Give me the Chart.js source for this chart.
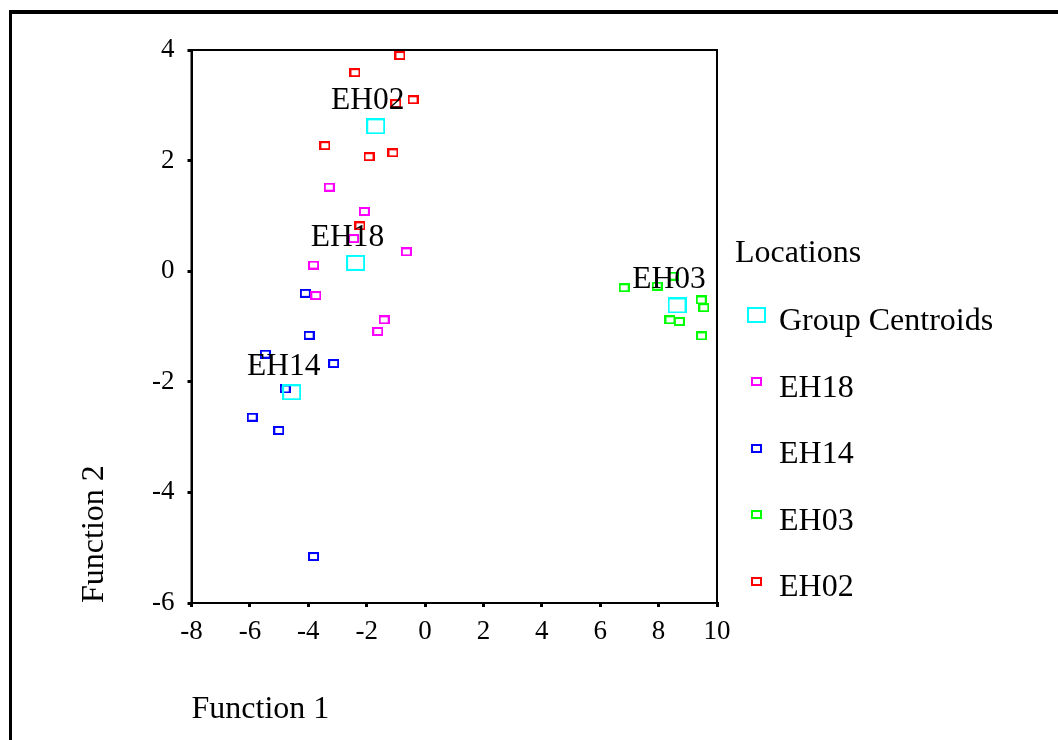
<!DOCTYPE html>
<html>
<head>
<meta charset="utf-8">
<script src="https://cdn.jsdelivr.net/npm/chart.js@4.4.1/dist/chart.umd.min.js"></script>
<style>
  html, body { margin: 0; padding: 0; background: #fff; }
  canvas { display: block; }
</style>
</head>
<body>
<canvas id="myChart" width="1058" height="740"></canvas>
<script>
// groups, in legend order
const groups = ['Group Centroids', 'EH18', 'EH14', 'EH03', 'EH02']
const groupColors = ['#00ffff', '#ff00ff', '#0000ff', '#00ff00', '#ff0000']

// centroids (Function 1, Function 2) for each location
const centroidNames = ['EH18', 'EH14', 'EH03', 'EH02']
const centroidX = [-2.38, -4.57, 8.63, -1.69]
const centroidY = [0.15, -2.19, -0.62, 2.62]

const eh18X = [-3.28, -2.08, -2.45, -0.64, -3.82, -3.74, -1.40, -1.62]
const eh18Y = [1.52, 1.08, 0.59, 0.35, 0.11, -0.44, -0.88, -1.09]

const eh14X = [-4.10, -3.97, -5.47, -3.13, -4.79, -5.92, -5.01, -3.82]
const eh14Y = [-0.40, -1.16, -1.50, -1.67, -2.13, -2.64, -2.88, -5.16]

const eh03X = [6.82, 7.95, 8.50, 9.46, 9.55, 8.39, 8.71, 9.47]
const eh03Y = [-0.30, -0.27, -0.09, -0.52, -0.66, -0.88, -0.91, -1.17]

const eh02X = [-0.86, -2.40, -0.41, -1.00, -3.43, -1.92, -1.10, -2.23]
const eh02Y = [3.90, 3.59, 3.10, 3.03, 2.27, 2.07, 2.14, 0.82]

const xTicks = [-8, -6, -4, -2, 0, 2, 4, 6, 8, 10]
const yTicks = [-6, -4, -2, 0, 2, 4]

const serif = '"Liberation Serif", "Times New Roman", serif'

// hollow rectangle markers
const makeMarker = (w, h, color) => {
    const c = document.createElement('canvas')
    c.width = w
    c.height = h
    const g = c.getContext('2d')
    g.strokeStyle = color
    g.lineWidth = 2
    g.strokeRect(1, 1, w - 2, h - 2)
    return c
}

const toPoints = (xs, ys) => xs.map((x, i) => ({ x: x, y: ys[i] }))

const seriesX = [centroidX, eh18X, eh14X, eh03X, eh02X]
const seriesY = [centroidY, eh18Y, eh14Y, eh03Y, eh02Y]

const datasets = groups.map((name, i) => ({
    label: name,
    data: toPoints(seriesX[i], seriesY[i]),
    pointStyle: i === 0 ? makeMarker(19, 16, groupColors[i]) : makeMarker(11, 9, groupColors[i]),
    showLine: false
}))

// frame, plot box, centroid labels and legend
const decorations = {
    id: 'decorations',
    beforeDraw(chart) {
        const ctx = chart.ctx
        ctx.save()
        ctx.fillStyle = '#fff'
        ctx.fillRect(0, 0, chart.width, chart.height)
        ctx.fillStyle = '#000'
        ctx.fillRect(9, 10, chart.width - 9, 4)
        ctx.fillRect(9, 10, 3, chart.height - 10)
        ctx.restore()
    },
    afterDatasetsDraw(chart) {
        const ctx = chart.ctx
        const a = chart.chartArea
        const xs = chart.scales.x
        const ys = chart.scales.y
        ctx.save()
        ctx.strokeStyle = '#000'
        ctx.lineWidth = 2
        ctx.strokeRect(a.left, a.top, a.right - a.left, a.bottom - a.top)

        ctx.fillStyle = '#000'
        ctx.font = '31.5px ' + serif
        ctx.textAlign = 'center'
        ctx.textBaseline = 'alphabetic'
        centroidNames.forEach((name, i) => {
            const px = xs.getPixelForValue(centroidX[i])
            const py = ys.getPixelForValue(centroidY[i])
            ctx.fillText(name, px - 8, py - 17)
        })

        // legend
        ctx.font = '32px ' + serif
        ctx.textAlign = 'left'
        ctx.fillText('Locations', 735, 262)
        chart.data.datasets.forEach((ds, i) => {
            const base = 330 + i * 66.5
            const img = ds.pointStyle
            ctx.drawImage(img, Math.round(756 - img.width / 2), Math.round(base - 15 - img.height / 2))
            ctx.fillText(ds.label, 779, base)
        })
        ctx.restore()
    }
}

let ctx = document.getElementById('myChart').getContext('2d')
let chart = new Chart(ctx, {
    type: 'scatter',
    data: { datasets: datasets },
    plugins: [decorations],
    options: {
        responsive: false,
        animation: false,
        events: [],
        layout: {
            padding: { left: 0, top: 50, right: 341, bottom: 0 }
        },
        plugins: {
            legend: { display: false },
            tooltip: { enabled: false }
        },
        scales: {
            x: {
                type: 'linear',
                min: -8,
                max: 10,
                afterBuildTicks: scale => { scale.ticks = xTicks.map(v => ({ value: v })) },
                afterFit: scale => { scale.height = 137 },
                border: { color: '#000', width: 2 },
                grid: { drawOnChartArea: false, drawTicks: true, tickLength: 4, color: '#000', lineWidth: 3 },
                ticks: { color: '#000', padding: 9, maxRotation: 0, font: { family: serif, size: 27 } },
                title: {
                    display: true,
                    text: 'Function 1',
                    align: 'start',
                    color: '#000',
                    padding: { top: 0, bottom: 11 },
                    font: { family: serif, size: 32 }
                }
            },
            y: {
                type: 'linear',
                min: -6,
                max: 4,
                afterBuildTicks: scale => { scale.ticks = yTicks.map(v => ({ value: v })) },
                afterFit: scale => { scale.width = 191.5 },
                border: { color: '#000', width: 2 },
                grid: { drawOnChartArea: false, drawTicks: true, tickLength: 4, color: '#000', lineWidth: 3 },
                ticks: { color: '#000', padding: 13, font: { family: serif, size: 27 } },
                title: {
                    display: true,
                    text: 'Function 2',
                    align: 'start',
                    color: '#000',
                    padding: { top: 75, bottom: 0 },
                    font: { family: serif, size: 32 }
                }
            }
        }
    }
})
</script>
</body>
</html>
